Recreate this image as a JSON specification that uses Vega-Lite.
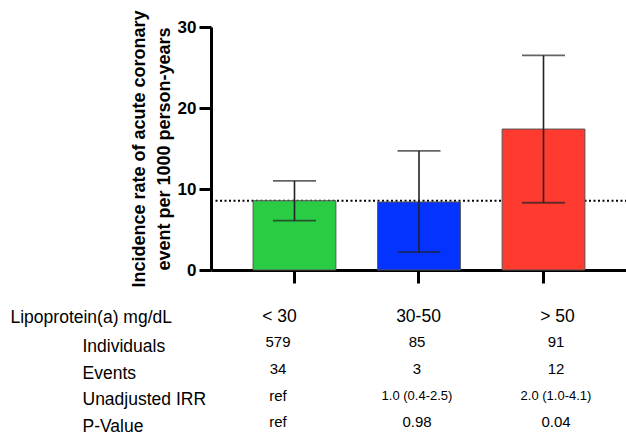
{
  "$schema": "https://vega.github.io/schema/vega-lite/v6.json",
  "padding": {"left": 10, "top": 9, "right": 0, "bottom": 0},
  "config": {
    "view": {"stroke": null},
    "font": "Liberation Sans",
    "concat": {"spacing": 16}
  },
  "datasets": {
    "bars": [
      {"group": "< 30", "rate": 8.55, "lower": 6.1, "upper": 11.0},
      {"group": "30-50", "rate": 8.4, "lower": 2.2, "upper": 14.7},
      {"group": "> 50", "rate": 17.4, "lower": 8.3, "upper": 26.5}
    ],
    "reference": [{"overall": 8.56}],
    "table": [
      {"row": "Lipoprotein(a) mg/dL", "group": "< 30", "text": "< 30"},
      {"row": "Lipoprotein(a) mg/dL", "group": "30-50", "text": "30-50"},
      {"row": "Lipoprotein(a) mg/dL", "group": "> 50", "text": "> 50"},
      {"row": "Individuals", "group": "< 30", "text": "579"},
      {"row": "Individuals", "group": "30-50", "text": "85"},
      {"row": "Individuals", "group": "> 50", "text": "91"},
      {"row": "Events", "group": "< 30", "text": "34"},
      {"row": "Events", "group": "30-50", "text": "3"},
      {"row": "Events", "group": "> 50", "text": "12"},
      {"row": "Unadjusted IRR", "group": "< 30", "text": "ref"},
      {"row": "Unadjusted IRR", "group": "30-50", "text": "1.0 (0.4-2.5)"},
      {"row": "Unadjusted IRR", "group": "> 50", "text": "2.0 (1.0-4.1)"},
      {"row": "P-Value", "group": "< 30", "text": "ref"},
      {"row": "P-Value", "group": "30-50", "text": "0.98"},
      {"row": "P-Value", "group": "> 50", "text": "0.04"}
    ]
  },
  "vconcat": [
    {
      "width": 416,
      "height": 243,
      "layer": [
        {
          "data": {"name": "reference"},
          "mark": {"type": "rule", "strokeDash": [2, 2.5], "strokeWidth": 2, "color": "black"},
          "encoding": {
            "y": {"field": "overall", "type": "quantitative", "scale": {"domain": [0, 30], "nice": false},
                  "title": ["Incidence rate of acute coronary", "event per 1000 person-years"]}
          }
        },
        {
          "data": {"name": "bars"},
          "mark": {"type": "bar", "stroke": "#555555", "strokeWidth": 1},
          "encoding": {
            "x": {
              "field": "group", "type": "nominal", "sort": ["< 30", "30-50", "> 50"],
              "scale": {"domain": ["< 30", "30-50", "> 50"], "paddingInner": 0.335, "paddingOuter": 0.338},
              "axis": {"title": null, "labels": false, "domainWidth": 3, "domainColor": "black", "tickWidth": 3, "tickColor": "black", "tickSize": 13}
            },
            "y": {
              "field": "rate", "type": "quantitative", "scale": {"domain": [0, 30], "nice": false},
              "title": ["Incidence rate of acute coronary", "event per 1000 person-years"],
              "axis": {
                "values": [0, 10, 20, 30], "grid": false,
                "domainColor": "black", "domainWidth": 3,
                "tickColor": "black", "tickWidth": 3, "tickSize": 12,
                "labelFontSize": 17, "labelFontWeight": "bold", "labelColor": "black", "labelPadding": 3,
                "titleFontSize": 18, "titleFontWeight": "bold", "titleColor": "black", "titlePadding": 4, "titleLineHeight": 25
              }
            },
            "color": {
              "field": "group", "type": "nominal",
              "scale": {"domain": ["< 30", "30-50", "> 50"], "range": ["#2ACC44", "#0433FF", "#FF3B30"]},
              "legend": null
            }
          }
        },
        {
          "data": {"name": "bars"},
          "mark": {"type": "rule", "color": "#222222", "strokeWidth": 1.6},
          "encoding": {
            "x": {"field": "group", "type": "nominal"},
            "y": {"field": "lower", "type": "quantitative", "title": ["Incidence rate of acute coronary", "event per 1000 person-years"]},
            "y2": {"field": "upper"}
          }
        },
        {
          "data": {"name": "bars"},
          "mark": {"type": "tick", "color": "#222222", "thickness": 1.8, "size": 43},
          "encoding": {
            "x": {"field": "group", "type": "nominal"},
            "y": {"field": "lower", "type": "quantitative", "title": ["Incidence rate of acute coronary", "event per 1000 person-years"]}
          }
        },
        {
          "data": {"name": "bars"},
          "mark": {"type": "tick", "color": "#222222", "thickness": 1.8, "size": 43},
          "encoding": {
            "x": {"field": "group", "type": "nominal"},
            "y": {"field": "upper", "type": "quantitative", "title": ["Incidence rate of acute coronary", "event per 1000 person-years"]}
          }
        }
      ]
    },
    {
      "width": 417,
      "height": 133,
      "data": {"name": "table"},
      "encoding": {
        "x": {
          "field": "group", "type": "nominal",
          "scale": {"domain": ["< 30", "30-50", "> 50"], "paddingInner": 0, "paddingOuter": 0},
          "axis": null
        },
        "y": {
          "field": "row", "type": "nominal",
          "scale": {"domain": ["Lipoprotein(a) mg/dL", "Individuals", "Events", "Unadjusted IRR", "P-Value"], "paddingInner": 0, "paddingOuter": 0},
          "axis": {
            "title": null, "domain": false, "ticks": false, "tickSize": 0,
            "labelAlign": "left", "labelBaseline": "middle",
            "labelFontSize": 17.5, "labelColor": "black", "labelLimit": 400,
            "labelPadding": {"condition": {"test": "datum.value === 'Lipoprotein(a) mg/dL'", "value": 201}, "value": 129},
            "labelOffset": {"condition": {"test": "datum.value === 'Lipoprotein(a) mg/dL'", "value": 0}, "value": 2.5}
          }
        },
        "text": {"field": "text", "type": "nominal"}
      },
      "layer": [
        {
          "transform": [{"filter": "datum.row === 'Lipoprotein(a) mg/dL'"}],
          "mark": {"type": "text", "fontSize": 17.5, "color": "black", "dx": -1}
        },
        {
          "transform": [{"filter": "datum.row === 'Unadjusted IRR' && datum.text !== 'ref'"}],
          "mark": {"type": "text", "fontSize": 13, "color": "black", "dx": -2.5, "dy": -1.5}
        },
        {
          "transform": [{"filter": "datum.row !== 'Lipoprotein(a) mg/dL' && !(datum.row === 'Unadjusted IRR' && datum.text !== 'ref')"}],
          "mark": {"type": "text", "fontSize": 15, "color": "black", "dx": -2.5, "dy": -1.5}
        }
      ]
    }
  ]
}
